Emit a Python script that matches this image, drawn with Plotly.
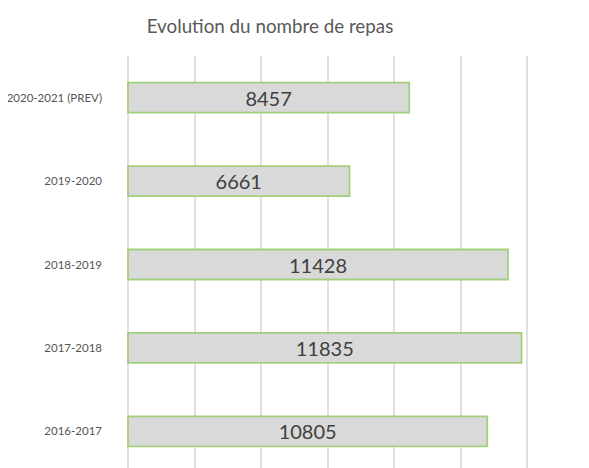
import plotly.graph_objects as go

annees = ["2016-2017", "2017-2018", "2018-2019", "2019-2020", "2020-2021 (PREV)"]
repas = [10805, 11835, 11428, 6661, 8457]
graduations = [0, 2000, 4000, 6000, 8000, 10000, 12000]

# la page html a une marge de 8px : on compense dans les marges
fig = go.Figure()
fig.add_trace(go.Bar(
    y=annees,
    x=repas,
    orientation="h",
    marker=dict(color="#d9d9d9", line=dict(color="#a3cf7c", width=1.8)),
    text=[str(v) for v in repas],
    textposition="inside",
    insidetextanchor="middle",
    textfont=dict(family="Lato", size=20, color="#404040"),
))

fig.update_layout(
    width=589,
    height=468,
    margin=dict(l=117, r=67, t=48, b=8),
    paper_bgcolor="white",
    plot_bgcolor="white",
    bargap=0.64,
    showlegend=False,
    title=dict(
        text="Evolution du nombre de repas",
        x=262 / 589,
        xanchor="center",
        y=1 - 18 / 468,
        yanchor="middle",
        font=dict(family="Lato", size=18.8, color="#595959"),
    ),
    xaxis=dict(
        range=[-90, 12090],
        tickvals=graduations,
        showticklabels=False,
        showgrid=True,
        gridcolor="#e0e0e0",
        gridwidth=2,
        zeroline=False,
        showline=False,
        automargin=False,
    ),
    yaxis=dict(
        range=[-0.44, 4.5],
        tickfont=dict(family="Liberation Sans Narrow, Lato", size=11.5, color="#555555"),
        ticks="",
        ticklabelstandoff=22,
        showgrid=False,
        showline=False,
        automargin=False,
    ),
)

fig.write_html("out.html")
